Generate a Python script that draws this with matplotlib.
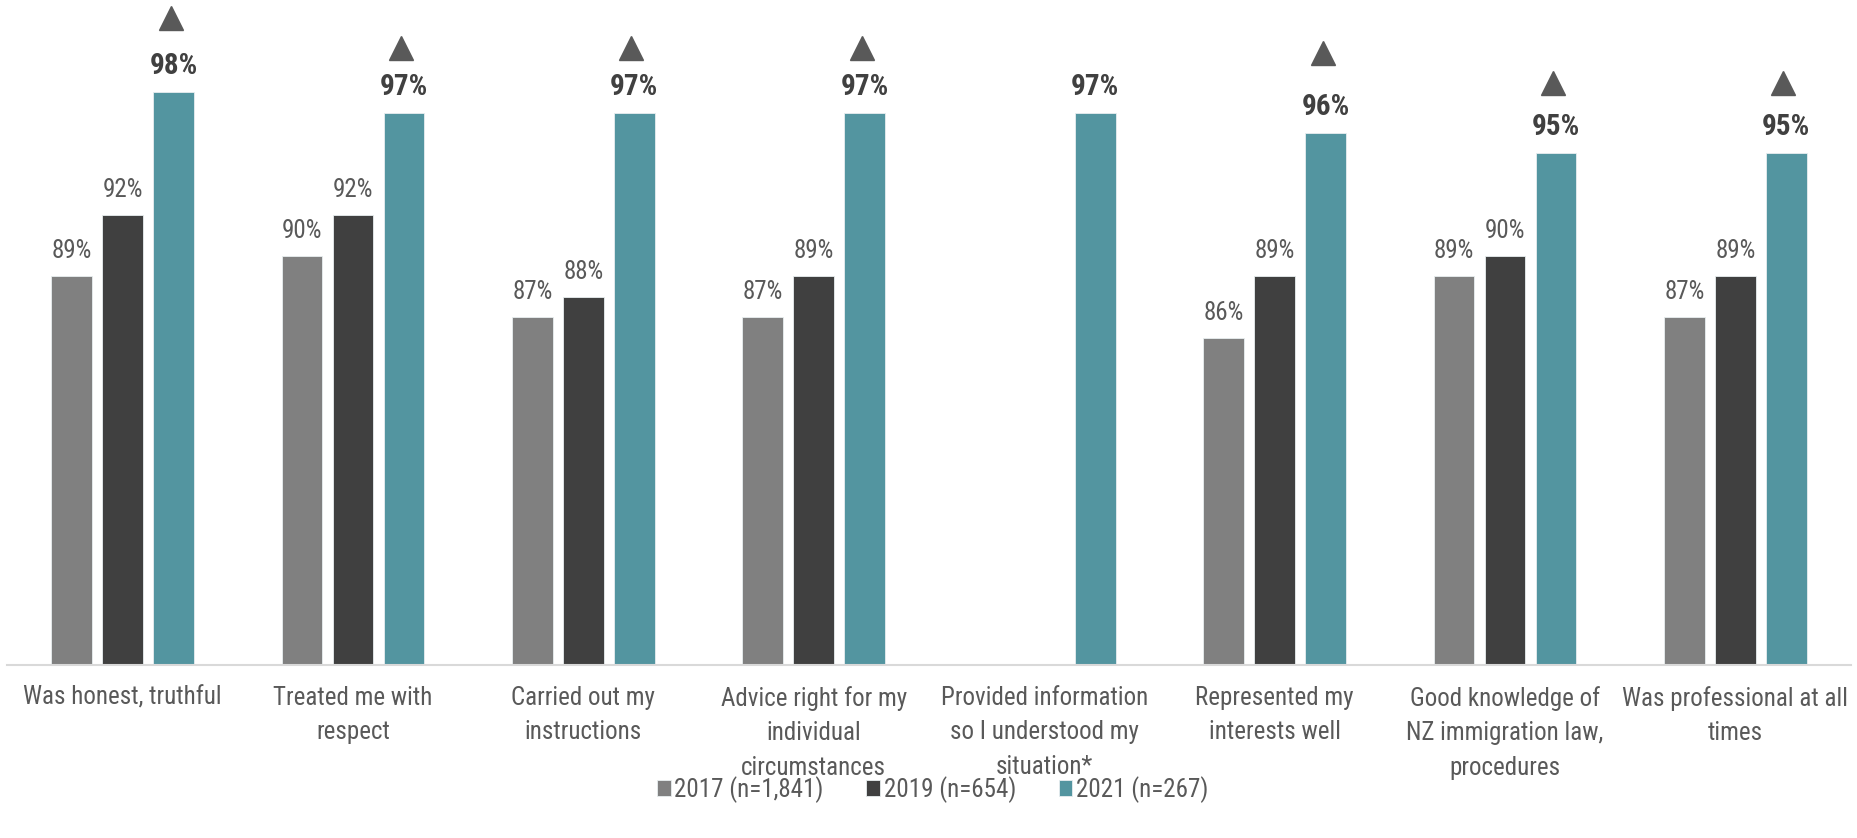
import matplotlib
matplotlib.use("Agg")
import matplotlib.pyplot as plt
import matplotlib.transforms as mtransforms
import numpy as np

# data
categories = [
    "Was honest, truthful",
    "Treated me with\nrespect",
    "Carried out my\ninstructions",
    "Advice right for my\nindividual\ncircumstances",
    "Provided information\nso I understood my\nsituation*",
    "Represented my\ninterests well",
    "Good knowledge of\nNZ immigration law,\nprocedures",
    "Was professional at all\ntimes",
]
series_names = ["2017 (n=1,841)", "2019 (n=654)", "2021 (n=267)"]
v2017 = [89, 90, 87, 87, np.nan, 86, 89, 87]
v2019 = [92, 92, 88, 89, np.nan, 89, 90, 89]
v2021 = [98, 97, 97, 97, 97, 96, 95, 95]
signif = [True, True, True, True, False, True, True, True]

# style
colors = ["#808080", "#404040", "#5395a0"]
tri_offset = [74, 65, 65, 65, 0, 80, 70, 70]   # px above bar top
plt.rcParams["font.family"] = ["Roboto Condensed", "DejaVu Sans"]

fig = plt.figure(figsize=(18.58, 8.38), dpi=100)
ax = fig.add_axes([0.004, 0.2065, 0.992, 0.7935])

x = np.arange(len(categories))
width = 0.177
step = 0.221
allvals = [v2017, v2019, v2021]
for i, vals in enumerate(allvals):
    xs = x + (i - 1) * step
    ax.bar(xs, vals, width=width, bottom=0, color=colors[i], label=series_names[i],
           edgecolor="#e8eef0", linewidth=0.6)
    for xi, v in zip(xs, vals):
        if np.isnan(v):
            continue
        if i == 2:
            ax.annotate(f"{v:.0f}%", (xi, v), xytext=(0, 18), textcoords="offset pixels",
                        ha="center", va="baseline", fontsize=21, fontweight="bold",
                        color="#404040")
        else:
            ax.annotate(f"{v:.0f}%", (xi, v), xytext=(0, 18), textcoords="offset pixels",
                        ha="center", va="baseline", fontsize=18, color="#595959")

# significance triangles
for xi, v, s, off in zip(x + step, v2021, signif, tri_offset):
    if not s:
        continue
    tr = mtransforms.offset_copy(ax.transData, fig=fig, x=-3, y=off, units="dots")
    ax.plot([xi], [v], marker="^", markersize=17, color="#595959", transform=tr,
            clip_on=False, linestyle="none")

ax.set_ylim(70, 102.5)
ax.set_xlim(-0.5, 7.5)
ax.set_xticks(x)
ax.set_xticklabels(categories, fontsize=18, color="#595959", linespacing=1.55)
ax.tick_params(axis="x", length=0, pad=15)
ax.set_yticks([])
for sp in ["top", "right", "left"]:
    ax.spines[sp].set_visible(False)
ax.spines["bottom"].set_color("#d9d9d9")
ax.spines["bottom"].set_linewidth(1.5)

leg = fig.legend(loc="center", bbox_to_anchor=(0.502, 0.058), ncol=3, frameon=False,
                 fontsize=18, handlelength=0.55, handleheight=0.55, handletextpad=0.15,
                 columnspacing=1.7)
for t in leg.get_texts():
    t.set_color("#595959")

fig.savefig("out.png", dpi=100)
